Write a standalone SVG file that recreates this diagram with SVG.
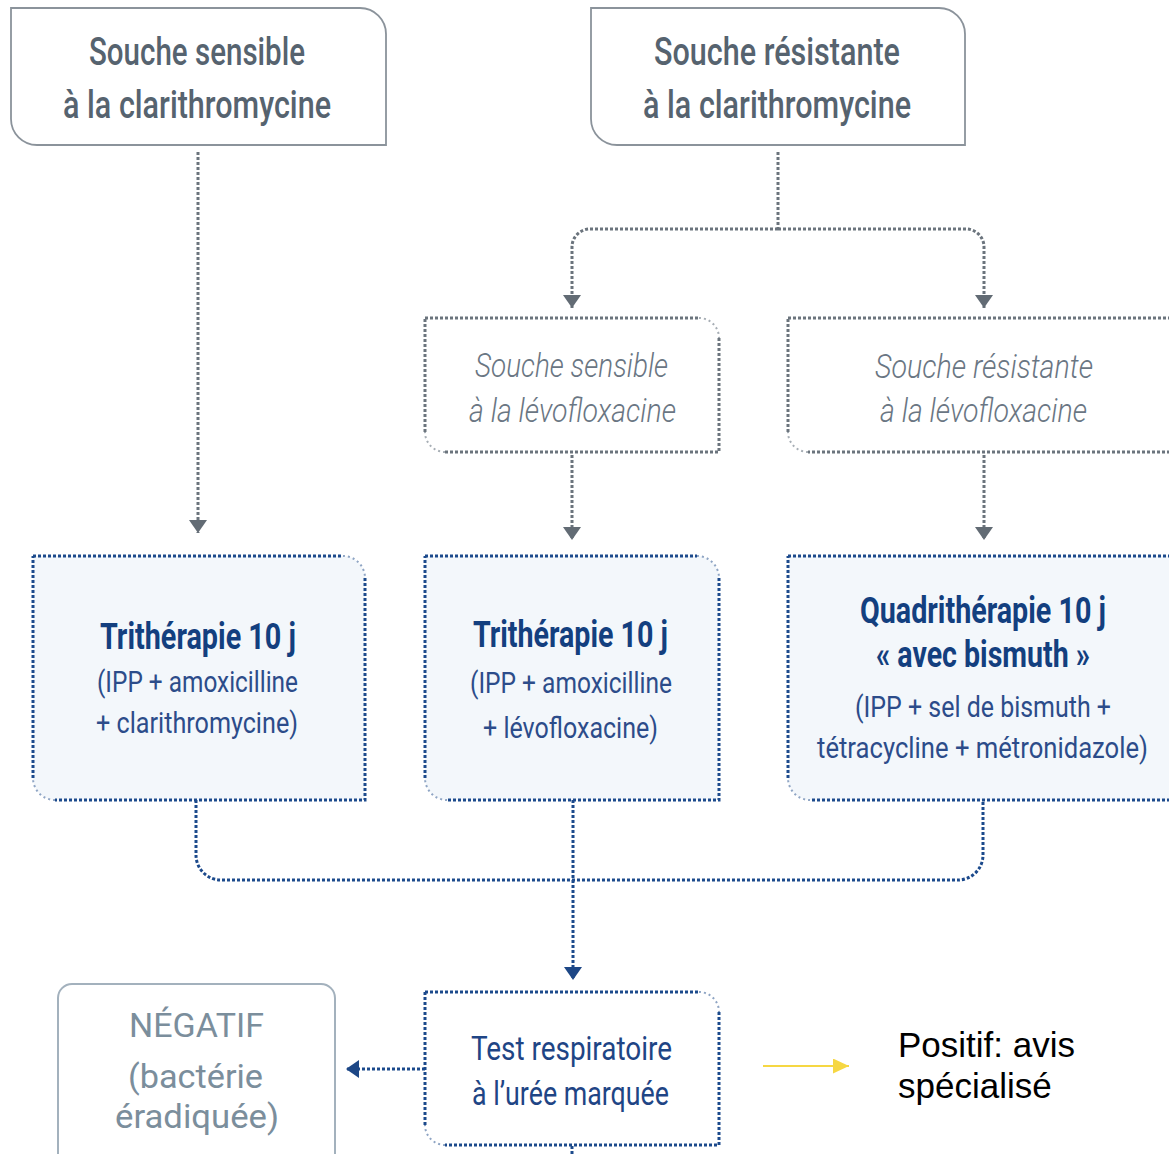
<svg xmlns="http://www.w3.org/2000/svg" width="1169" height="1154" viewBox="0 0 1169 1154">
<style>
.solid{fill:#fff;stroke:#8b939b;stroke-width:1.8}
.gbox{fill:#fff;stroke:none}
.gline{fill:none;stroke:#6b747d;stroke-width:3;stroke-dasharray:3 2}
.gcorner{fill:none;stroke:#a7aeb5;stroke-width:2;stroke-dasharray:2 3}
.nbox{fill:#f3f7fb;stroke:none}
.nline{fill:none;stroke:#1c4a8c;stroke-width:3;stroke-dasharray:3 2}
.ncorner{fill:none;stroke:#8fa5c4;stroke-width:2;stroke-dasharray:2 3}
.neg{fill:#fff;stroke:#a3b1bd;stroke-width:2}
text{font-family:Roboto,"Liberation Sans",sans-serif}
.t-top{font-size:38px;font-weight:500;fill:#56636f}
.t-lev{font-size:33px;font-style:italic;font-weight:300;fill:#6a7683}
.t-bold{font-size:36px;font-weight:700;fill:#133f7f}
.t-reg{font-size:29px;font-weight:400;fill:#2c4c8a}
.t-test{font-size:33px;font-weight:400;fill:#1f4585}
.t-neg{font-size:33px;font-weight:400;fill:#7b8e9c}
.t-pos{font-family:"Liberation Sans",Arial,sans-serif;font-size:35px;fill:#000}
</style>
<defs>
<marker id="ag" viewBox="0 0 13 18" refX="13" refY="9" markerWidth="13" markerHeight="18" markerUnits="userSpaceOnUse" orient="auto"><path d="M0,0 L13,9 L0,18 Z" fill="#626b74"/></marker>
<marker id="an" viewBox="0 0 13 18" refX="13" refY="9" markerWidth="13" markerHeight="18" markerUnits="userSpaceOnUse" orient="auto"><path d="M0,0 L13,9 L0,18 Z" fill="#1d4786"/></marker>
<marker id="ay" viewBox="0 0 16 15" refX="16" refY="7.5" markerWidth="16" markerHeight="15" markerUnits="userSpaceOnUse" orient="auto"><path d="M0,0 L16,7.5 L0,15 Z" fill="#f6d743"/></marker>
</defs>

<g id="connectors">
<path class="gline" d="M198,152 V533" marker-end="url(#ag)"/>
<path class="gline" d="M778,152 V229"/>
<path class="gline" d="M778,229 H590 A18,18 0 0 0 572,247 V308" marker-end="url(#ag)"/>
<path class="gline" d="M778,229 H966 A18,18 0 0 1 984,247 V308" marker-end="url(#ag)"/>
<path class="gline" d="M572,455 V540" marker-end="url(#ag)"/>
<path class="gline" d="M984,455 V540" marker-end="url(#ag)"/>
<path class="nline" d="M196,800 V855 A25,25 0 0 0 221,880 H958 A25,25 0 0 0 983,855 V800"/>
<path class="nline" d="M573,800 V980" marker-end="url(#an)"/>
<path class="nline" d="M425,1069 H346" marker-end="url(#an)"/>
<path class="nline" d="M572,1146 V1154"/>
<path d="M763,1066 H849" fill="none" stroke="#f6d743" stroke-width="2" marker-end="url(#ay)"/>
</g>

<g id="node-sensible-clari">
<path class="solid" d="M11,8 H360 A26,26 0 0 1 386,34 V145 H37 A26,26 0 0 1 11,119 Z"/>
<text class="t-top" x="89" y="65" textLength="216" lengthAdjust="spacingAndGlyphs">Souche sensible</text>
<text class="t-top" x="63" y="118" textLength="268" lengthAdjust="spacingAndGlyphs">à la clarithromycine</text>
</g>

<g id="node-resistante-clari">
<path class="solid" d="M591,8 H939 A26,26 0 0 1 965,34 V145 H617 A26,26 0 0 1 591,119 Z"/>
<text class="t-top" x="654" y="65" textLength="246" lengthAdjust="spacingAndGlyphs">Souche résistante</text>
<text class="t-top" x="643" y="118" textLength="268" lengthAdjust="spacingAndGlyphs">à la clarithromycine</text>
</g>

<g id="node-sensible-levo">
<path class="gbox" d="M425,318 H699 A20,20 0 0 1 719,338 V452 H445 A20,20 0 0 1 425,432 Z"/>
<path class="gline" d="M425,318 H699 M719,338 V452 H445 M425,432 V318"/>
<path class="gcorner" d="M699,318 A20,20 0 0 1 719,338 M445,452 A20,20 0 0 1 425,432"/>
<text class="t-lev" x="475" y="377" textLength="193" lengthAdjust="spacingAndGlyphs">Souche sensible</text>
<text class="t-lev" x="469" y="422" textLength="207" lengthAdjust="spacingAndGlyphs">à la lévofloxacine</text>
</g>

<g id="node-resistante-levo">
<path class="gbox" d="M788,318 H1190 V452 H808 A20,20 0 0 1 788,432 Z"/>
<path class="gline" d="M788,318 H1190 M1190,452 H808 M788,432 V318"/>
<path class="gcorner" d="M808,452 A20,20 0 0 1 788,432"/>
<text class="t-lev" x="875" y="378" textLength="218" lengthAdjust="spacingAndGlyphs">Souche résistante</text>
<text class="t-lev" x="880" y="422" textLength="207" lengthAdjust="spacingAndGlyphs">à la lévofloxacine</text>
</g>

<g id="node-tri-clari">
<path class="nbox" d="M33,556 H343 A22,22 0 0 1 365,578 V800 H55 A22,22 0 0 1 33,778 Z"/>
<path class="nline" d="M33,556 H343 M365,578 V800 H55 M33,778 V556"/>
<path class="ncorner" d="M343,556 A22,22 0 0 1 365,578 M55,800 A22,22 0 0 1 33,778"/>
<text class="t-bold" x="100" y="649" textLength="196" lengthAdjust="spacingAndGlyphs">Trithérapie 10 j</text>
<text class="t-reg" x="97" y="692" textLength="201" lengthAdjust="spacingAndGlyphs">(IPP + amoxicilline</text>
<text class="t-reg" x="96" y="733" textLength="202" lengthAdjust="spacingAndGlyphs">+ clarithromycine)</text>
</g>

<g id="node-tri-levo">
<path class="nbox" d="M425,556 H697 A22,22 0 0 1 719,578 V800 H447 A22,22 0 0 1 425,778 Z"/>
<path class="nline" d="M425,556 H697 M719,578 V800 H447 M425,778 V556"/>
<path class="ncorner" d="M697,556 A22,22 0 0 1 719,578 M447,800 A22,22 0 0 1 425,778"/>
<text class="t-bold" x="473" y="647" textLength="195" lengthAdjust="spacingAndGlyphs">Trithérapie 10 j</text>
<text class="t-reg" x="470" y="693" textLength="202" lengthAdjust="spacingAndGlyphs">(IPP + amoxicilline</text>
<text class="t-reg" x="483" y="738" textLength="175" lengthAdjust="spacingAndGlyphs">+ lévofloxacine)</text>
</g>

<g id="node-quadri">
<path class="nbox" d="M788,556 H1190 V800 H810 A22,22 0 0 1 788,778 Z"/>
<path class="nline" d="M788,556 H1190 M1190,800 H810 M788,778 V556"/>
<path class="ncorner" d="M810,800 A22,22 0 0 1 788,778"/>
<text class="t-bold" x="860" y="623" textLength="246" lengthAdjust="spacingAndGlyphs">Quadrithérapie 10 j</text>
<text class="t-bold" x="876" y="667" textLength="214" lengthAdjust="spacingAndGlyphs">« avec bismuth »</text>
<text class="t-reg" x="855" y="717" textLength="256" lengthAdjust="spacingAndGlyphs">(IPP + sel de bismuth +</text>
<text class="t-reg" x="817" y="758" textLength="331" lengthAdjust="spacingAndGlyphs">tétracycline + métronidazole)</text>
</g>

<g id="node-test">
<path d="M425,992 H699 A20,20 0 0 1 719,1012 V1145 H445 A20,20 0 0 1 425,1125 Z" fill="#fff"/>
<path class="nline" d="M425,992 H699 M719,1012 V1145 H445 M425,1125 V992"/>
<path class="ncorner" d="M699,992 A20,20 0 0 1 719,1012 M445,1145 A20,20 0 0 1 425,1125"/>
<text class="t-test" x="471" y="1060" textLength="201" lengthAdjust="spacingAndGlyphs">Test respiratoire</text>
<text class="t-test" x="472" y="1105" textLength="197" lengthAdjust="spacingAndGlyphs">à l’urée marquée</text>
</g>

<g id="node-negatif">
<rect class="neg" x="58" y="984" width="277" height="190" rx="14"/>
<text class="t-neg" x="129" y="1037" textLength="135" lengthAdjust="spacingAndGlyphs">NÉGATIF</text>
<text class="t-neg" x="128" y="1088" textLength="135" lengthAdjust="spacingAndGlyphs">(bactérie</text>
<text class="t-neg" x="115" y="1128" textLength="164" lengthAdjust="spacingAndGlyphs">éradiquée)</text>
</g>

<g id="node-positif">
<text class="t-pos" x="898" y="1057">Positif: avis</text>
<text class="t-pos" x="898" y="1098">spécialisé</text>
</g>
</svg>
